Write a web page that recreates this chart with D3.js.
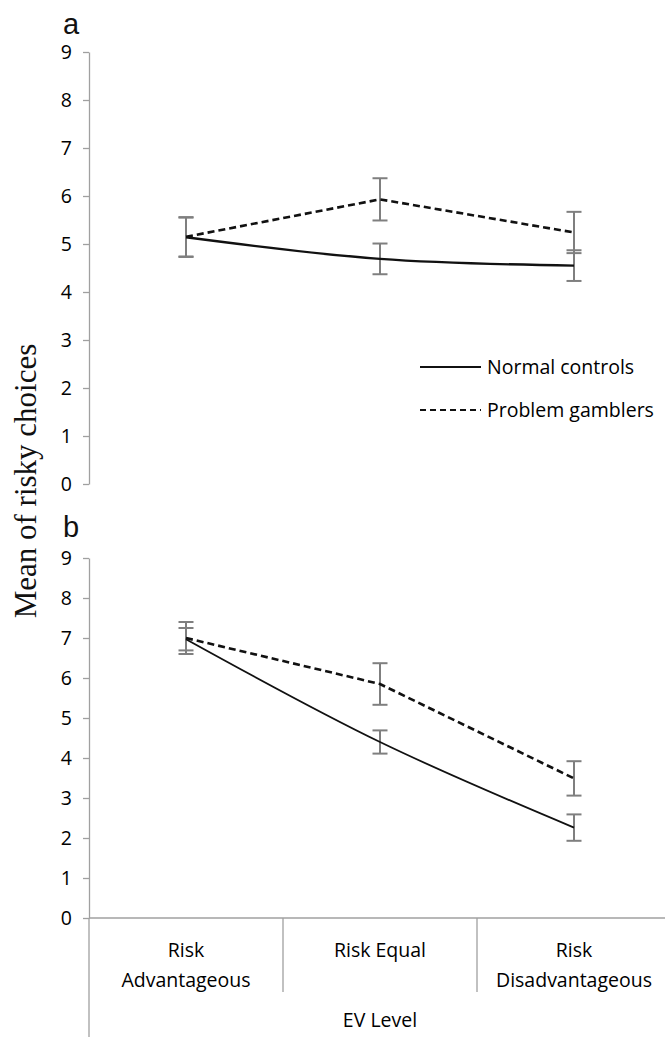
<!DOCTYPE html>
<html>
<head>
<meta charset="utf-8">
<script src="https://cdn.jsdelivr.net/npm/d3@7"></script>
<style>
  body { margin: 0; background: #fff; }
  svg { display: block; }
  .tick text { font-family: "Open Sans", sans-serif; font-size: 19.5px; fill: #000; }
</style>
</head>
<body>
<div id="chart"></div>
<script>
// EV levels on the x axis
const categories = ["Risk Advantageous", "Risk Equal", "Risk Disadvantageous"];
const categoryLines = [["Risk", "Advantageous"], ["Risk Equal"], ["Risk", "Disadvantageous"]];
const yTicks = [0, 1, 2, 3, 4, 5, 6, 7, 8, 9];

// panel a
const controlsA = [5.14, 4.69, 4.55];
const controlsErrA = [0.41, 0.32, 0.32];
const gamblersA = [5.15, 5.93, 5.24];
const gamblersErrA = [0.41, 0.44, 0.43];

// panel b
const controlsB = [6.97, 4.40, 2.26];
const controlsErrB = [0.28, 0.29, 0.33];
const gamblersB = [7.00, 5.85, 3.49];
const gamblersErrB = [0.40, 0.52, 0.43];

const seriesNames = ["Normal controls", "Problem gamblers"];

const width = 665, height = 1037;
const axisX = 89;

const svg = d3.select("#chart").append("svg")
  .attr("width", width)
  .attr("height", height);

const x = d3.scaleBand().domain(categories).range([axisX, 671]);

function drawPanel(cfg) {
  const y = d3.scaleLinear().domain([0, 9]).range([cfg.bottom, cfg.top]);

  // y axis
  const yAxis = svg.append("g")
    .attr("transform", `translate(${axisX},0)`)
    .call(d3.axisLeft(y).tickValues(yTicks).tickSize(6).tickSizeOuter(0).tickPadding(11));
  yAxis.select(".domain").attr("stroke", "#a0a0a0").attr("stroke-width", 1.3);
  yAxis.selectAll(".tick line").attr("stroke", "#a0a0a0").attr("stroke-width", 1.3);

  // panel letter
  svg.append("text")
    .attr("x", 63).attr("y", cfg.letterY)
    .attr("font-family", "Liberation Sans, Arial, sans-serif")
    .attr("font-size", 29)
    .attr("fill", "#111")
    .text(cfg.letter);

  const cx = (c) => x(c) + x.bandwidth() / 2;

  const series = [
    { name: seriesNames[0], values: cfg.controls, err: cfg.controlsErr },
    { name: seriesNames[1], values: cfg.gamblers, err: cfg.gamblersErr }
  ];

  // error bars
  series.forEach((s) => {
    const g = svg.append("g").attr("stroke", "#7f7f7f").attr("stroke-width", 2).attr("fill", "none");
    categories.forEach((c, i) => {
      const hi = y(s.values[i] + s.err[i]);
      const lo = y(s.values[i] - s.err[i]);
      g.append("line").attr("x1", cx(c)).attr("x2", cx(c)).attr("y1", hi).attr("y2", lo);
      g.append("line").attr("x1", cx(c) - 7.5).attr("x2", cx(c) + 7.5).attr("y1", hi).attr("y2", hi);
      g.append("line").attr("x1", cx(c) - 7.5).attr("x2", cx(c) + 7.5).attr("y1", lo).attr("y2", lo);
    });
  });

  // lines: controls smoothed solid, gamblers straight dashed
  const smooth = d3.line().x((d, i) => cx(categories[i])).y((d) => y(d)).curve(d3.curveCatmullRom.alpha(0.5));
  const straight = d3.line().x((d, i) => cx(categories[i])).y((d) => y(d));

  svg.append("path")
    .attr("d", straight(cfg.gamblers))
    .attr("fill", "none").attr("stroke", "#111")
    .attr("stroke-width", 2.6)
    .attr("stroke-dasharray", "7,4");

  svg.append("path")
    .attr("d", smooth(cfg.controls))
    .attr("fill", "none").attr("stroke", "#111")
    .attr("stroke-width", cfg.solidWidth);

  return y;
}

// panel a
drawPanel({
  letter: "a", letterY: 34, top: 52, bottom: 484,
  controls: controlsA, controlsErr: controlsErrA,
  gamblers: gamblersA, gamblersErr: gamblersErrA,
  solidWidth: 2.4
});

// panel b
const yB = drawPanel({
  letter: "b", letterY: 537, top: 558, bottom: 918,
  controls: controlsB, controlsErr: controlsErrB,
  gamblers: gamblersB, gamblersErr: gamblersErrB,
  solidWidth: 1.8
});

// panel b category axis
const x0 = yB(0);
svg.append("line")
  .attr("x1", axisX).attr("x2", width).attr("y1", x0).attr("y2", x0)
  .attr("stroke", "#a0a0a0").attr("stroke-width", 1.5);
svg.append("line")
  .attr("x1", axisX).attr("x2", axisX).attr("y1", x0).attr("y2", height)
  .attr("stroke", "#a0a0a0").attr("stroke-width", 1.3);
categories.slice(1).forEach((c) => {
  svg.append("line")
    .attr("x1", x(c)).attr("x2", x(c)).attr("y1", x0).attr("y2", x0 + 74)
    .attr("stroke", "#a0a0a0").attr("stroke-width", 1.3);
});
categories.forEach((c, i) => {
  const t = svg.append("text")
    .attr("x", x(c) + x.bandwidth() / 2)
    .attr("y", x0 + 39)
    .attr("text-anchor", "middle")
    .attr("font-family", "Open Sans, sans-serif")
    .attr("font-size", 19.5)
    .attr("fill", "#000");
  categoryLines[i].forEach((line, j) => {
    t.append("tspan").attr("x", x(c) + x.bandwidth() / 2).attr("dy", j === 0 ? 0 : 30).text(line);
  });
});
svg.append("text")
  .attr("x", x(categories[1]) + x.bandwidth() / 2)
  .attr("y", x0 + 109)
  .attr("text-anchor", "middle")
  .attr("font-family", "Open Sans, sans-serif")
  .attr("font-size", 19.5)
  .attr("fill", "#000")
  .text("EV Level");

// shared y axis title
svg.append("text")
  .attr("transform", "translate(36,481) rotate(-90)")
  .attr("text-anchor", "middle")
  .attr("font-family", "Liberation Serif, Times New Roman, serif")
  .attr("font-size", 31)
  .attr("fill", "#111")
  .text("Mean of risky choices");

// legend (panel a)
const legendY = [367, 410];
const legend = svg.append("g");
seriesNames.forEach((name, i) => {
  legend.append("line")
    .attr("x1", 420).attr("x2", 481)
    .attr("y1", legendY[i]).attr("y2", legendY[i])
    .attr("stroke", "#111")
    .attr("stroke-width", i === 0 ? 2.2 : 2)
    .attr("stroke-dasharray", i === 0 ? null : "6,4");
  legend.append("text")
    .attr("x", 487).attr("y", legendY[i])
    .attr("dy", "0.35em")
    .attr("font-family", "Open Sans, sans-serif")
    .attr("font-size", 19.5)
    .attr("fill", "#000")
    .text(name);
});
</script>
</body>
</html>
